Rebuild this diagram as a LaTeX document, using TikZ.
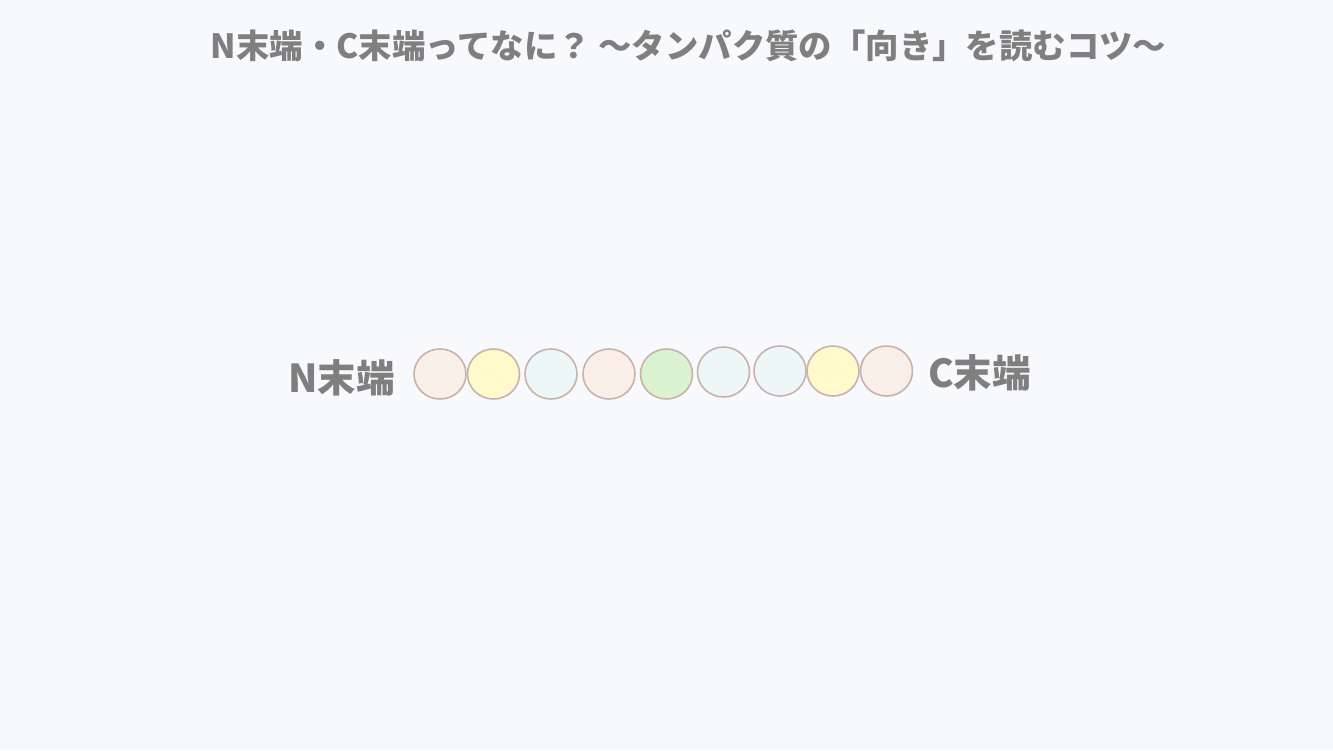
\documentclass[tikz,border=0pt]{standalone}
\usepackage{fontspec}
\newfontfamily\jp{Noto Sans CJK JP}
\definecolor{bg}{HTML}{F8F9FD}
\definecolor{txt}{HTML}{7F7F7F}
\definecolor{rim}{HTML}{C9B2AB}
\definecolor{cpink}{HTML}{FAEEE9}
\definecolor{cyel}{HTML}{FFF9CC}
\definecolor{ccyan}{HTML}{EEF7F7}
\definecolor{cgreen}{HTML}{D9F2CF}
\tikzset{
  bead/.style={draw=rim, line width=1.6pt, ellipse, minimum width=52pt, minimum height=50pt, inner sep=0pt},
  lbl/.style={text=txt, font=\jp\bfseries\fontsize{38.5}{42}\selectfont, inner sep=0pt},
  ttl/.style={text=txt, font=\jp\bfseries\fontsize{33.4}{38}\selectfont, inner sep=0pt}
}
\usetikzlibrary{shapes.geometric}
\begin{document}
\begin{tikzpicture}[x=1pt,y=-1pt]
\fill[bg] (0,0) rectangle (1333,750);
\useasboundingbox (0,0) rectangle (1333,750);
\node[ttl] (title) at (688.5,46) {N末端・C末端ってなに？ ～タンパク質の「向き」を読むコツ～};
\node[bead, fill=cpink]  (b1) at (440,374) {};
\node[bead, fill=cyel]   (b2) at (493.5,374) {};
\node[bead, fill=ccyan]  (b3) at (551,374) {};
\node[bead, fill=cpink]  (b4) at (609,374) {};
\node[bead, fill=cgreen] (b5) at (666.5,374) {};
\node[bead, fill=ccyan]  (b6) at (723.5,372) {};
\node[bead, fill=ccyan]  (b7) at (780,371) {};
\node[bead, fill=cyel]   (b8) at (833,371) {};
\node[bead, fill=cpink]  (b9) at (886.5,371) {};
\node[lbl, anchor=east] (nterm) at (395,378) {N末端};
\node[lbl, anchor=west] (cterm) at (928,373) {C末端};
\end{tikzpicture}
\end{document}
